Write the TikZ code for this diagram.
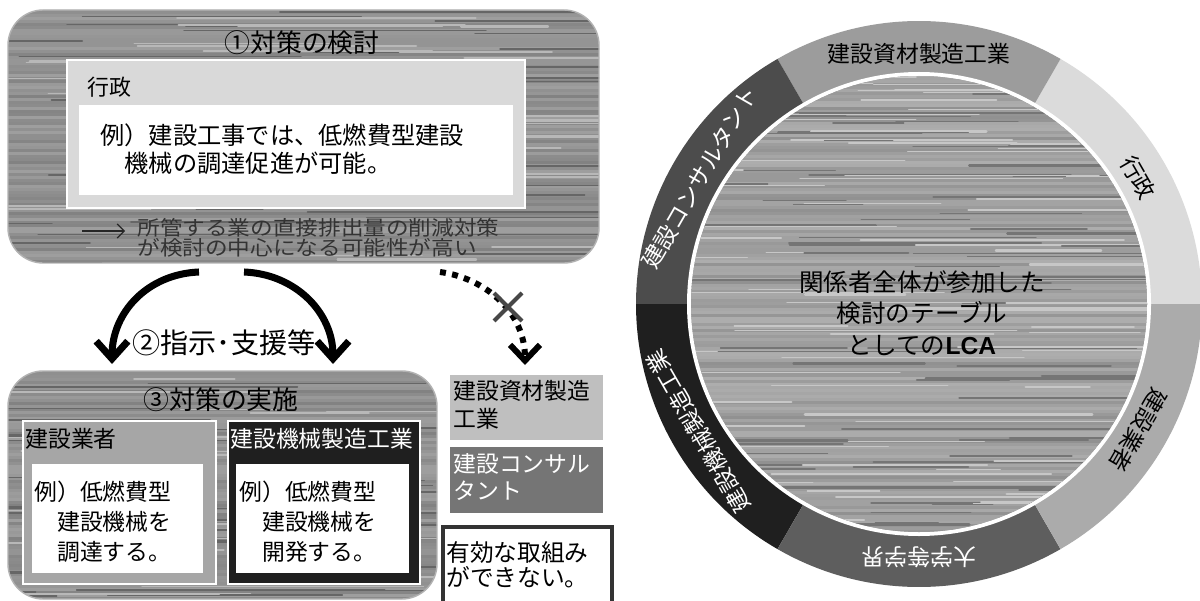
\documentclass[tikz,border=0pt]{standalone}
\usepackage{fontspec}
\setmainfont{Noto Sans CJK JP}
\newfontfamily\lcafont{Liberation Sans}
\usetikzlibrary{arrows.meta}
\newcommand\woodtexture[6]{%
  \fill[black!#5] (#1,#2) rectangle (#3,#4);
  \pgfmathtruncatemacro\wrows{(#4-#2)/3}%
  \foreach \i in {0,...,\wrows}{%
    \pgfmathsetmacro\wy{#2+3*\i}%
    \pgfmathtruncatemacro\wg{#5+rnd*12-6}%
    \draw[black!\wg, line width=1.8pt] (#1,\wy) -- (#3,\wy);
  }%
  \foreach \i in {1,...,#6}{%
    \pgfmathsetmacro\wy{#2+rnd*(#4-#2)}%
    \pgfmathsetmacro\wxa{#1-80+rnd*(#3-#1)}%
    \pgfmathsetmacro\wxb{\wxa+60+rnd*260}%
    \pgfmathtruncatemacro\wg{rnd<0.5 ? #5+16 : #5-16}%
    \pgfmathsetmacro\ww{0.4+rnd*1.1}%
    \draw[black!\wg, line width=\ww pt, line cap=round] (\wxa,\wy) -- (\wxb,\wy);
  }%
}
\begin{document}
\begin{tikzpicture}[x=0.02cm, y=-0.02cm,
  fs/.style 2 args={font=\fontsize{#1}{#2}\selectfont},
  boxedge/.style={draw=black!30, line width=0.8pt, rounded corners=20pt},
  title/.style={fs={14.7pt}{17pt}, inner sep=0pt},
  lab/.style={fs={13pt}{15.9pt}, inner sep=0pt, anchor=west},
  multi/.style={align=left, inner sep=0pt, anchor=north west},
  bigarrow/.style={line width=4pt, -{Straight Barb[length=10pt,width=18pt]}},
  dotarrow/.style={line width=3.4pt, dash pattern=on 3.4pt off 3.6pt, -{Straight Barb[length=9pt,width=17pt]}},
  ring/.style={fs={13pt}{15pt}, inner sep=0pt},
  panelwhite/.style={fill=white},
]
\pgfmathsetseed{4242}
\useasboundingbox (0,0) rectangle (1200,601);
\fill[white] (0,0) rectangle (1200,601);

% ---------- top box: (1) ----------
\begin{scope}
  \clip[rounded corners=20pt] (8,10) rectangle (599,263);
  \woodtexture{8}{10}{599}{263}{44}{80}
\end{scope}
\draw[boxedge] (8,10) rectangle (599,263);
\node[title] (t1) at (302,43) {①対策の検討};
\draw[fill=black!15, draw=white, line width=0.8pt] (67,60) rectangle (525,208);
\node[lab, fs={12.5pt}{15pt}] (gyosei) at (87,87) {行政};
\fill[panelwhite] (79,105) rectangle (513,195);
\node[multi, fs={13.8pt}{15.9pt}] (ex1) at (100,123) {例）建設工事では、低燃費型建設\\　機械の調達促進が可能。};
\coordinate (n0) at (82,231);
\coordinate (n1) at (125,231);
\draw[black!85, line width=0.7pt, -{Straight Barb[length=4pt,width=8pt]}] (n0) -- (n1);
\node[align=left, inner sep=0pt, anchor=west, xscale=1.12, fs={11.5pt}{11.4pt}, text=black!80] (note) at (137,238) {所管する業の直接排出量の削減対策\\が検討の中心になる可能性が高い};

% ---------- arrows ----------
\coordinate (L0) at (199,272);
\coordinate (L1) at (112,364);
\coordinate (R0) at (244,272);
\coordinate (R1) at (333,364);
\draw[bigarrow] (L0) .. controls (148,274) and (112,312) .. (L1);
\draw[bigarrow] (R0) .. controls (295,274) and (333,312) .. (R1);
\node[fs={16pt}{18pt}, inner sep=0pt] (shiji) at (224,343) {②指示･支援等};
\coordinate (D0) at (440,272);
\coordinate (D1) at (525,365);
\draw[dotarrow] (D0) .. controls (485,278) and (525,312) .. (D1);
\draw[black!72, line width=2.4pt] (494,293) -- (522,321) (494,321) -- (522,293);

% ---------- bottom box: (3) ----------
\begin{scope}
  \clip[rounded corners=20pt] (8,371) rectangle (437,599);
  \woodtexture{8}{371}{437}{599}{44}{55}
\end{scope}
\draw[boxedge] (8,371) rectangle (437,599);
\node[title] (t3) at (221,400) {③対策の実施};
\draw[fill=black!35, draw=white, line width=0.8pt] (23,421) rectangle (216,584);
\node[lab] (kensetsu) at (25,439) {建設業者};
\fill[panelwhite] (32,464) rectangle (203,573);
\node[multi, fs={13pt}{17pt}] (ex2) at (34,481) {例）低燃費型\\　建設機械を\\　調達する。};
\draw[fill=black!88, draw=white, line width=0.8pt] (228,421) rectangle (420,584);
\node[lab, text=white] (kikai) at (230,439) {建設機械製造工業};
\fill[panelwhite] (236,464) rectangle (409,573);
\node[multi, fs={13pt}{17pt}] (ex3) at (239,481) {例）低燃費型\\　建設機械を\\　開発する。};

% ---------- right column ----------
\fill[black!25] (450,375) rectangle (603,440);
\node[multi, fs={13pt}{15.9pt}] (c1) at (453,380) {建設資材製造\\工業};
\fill[black!54] (450,447) rectangle (603,513);
\node[multi, fs={13pt}{15.4pt}, text=white] (c2) at (453,453) {建設コンサル\\タント};
\draw[black!80, line width=2.6pt, fill=white] (443,527) rectangle (612,612);
\node[multi, fs={13.5pt}{14.5pt}] (c3) at (446,541) {有効な取組み\\ができない。};

% ---------- ring ----------
\begin{scope}[shift={(919,304)}, y=0.02cm]
  \foreach \a/\c in {0/black!14, 60/black!39, 120/black!70, 180/black!88, 240/black!63, 300/black!33}{
    \fill[\c] (0,0) -- (\a:283) arc[start angle=\a, end angle=\a+60, radius=283] -- cycle;
  }
  \fill[white] (0,0) circle[radius=232];
  \begin{scope}
    \clip (0,0) circle[radius=228];
    \woodtexture{-230}{-230}{230}{230}{38}{150}
  \end{scope}
  \node[ring, rotate=-60] (r1) at (30:253) {行政};
  \node[ring] (r2) at (90:250) {建設資材製造工業};
  \node[ring, text=white, rotate=60] (r3) at (150:253) {建設コンサルタント};
  \node[ring, text=white, rotate=120] (r4) at (210:255) {建設機械製造工業};
  \node[ring, text=white, rotate=180] (r5) at (270:253) {大学等学界};
  \node[ring, rotate=-120] (r6) at (330:253) {建設業者};
\end{scope}
\node[align=center, inner sep=0pt, fs={14pt}{17.9pt}] (lca) at (922,313) {関係者全体が参加した\\検討のテーブル\\としての{\lcafont\bfseries LCA}};
\end{tikzpicture}
\end{document}
